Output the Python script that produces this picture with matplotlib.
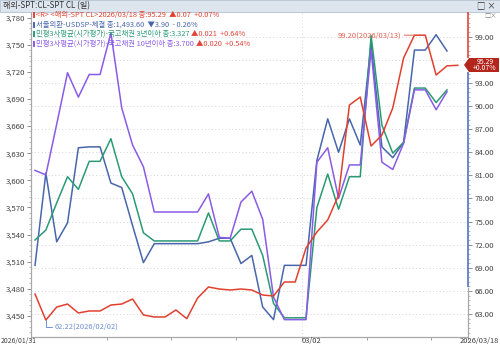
import numpy as np
import matplotlib
matplotlib.use('Agg')
import matplotlib.pyplot as plt
from matplotlib.lines import Line2D
from matplotlib.patches import Polygon, Rectangle
from matplotlib.ticker import FixedLocator, MultipleLocator, FuncFormatter

plt.rcParams['font.family'] = ['Noto Sans CJK KR', 'DejaVu Sans']

W, H = 500, 346

# ---------------- data ----------------
usd = [3506, 3608, 3532, 3553, 3636, 3637, 3637, 3597, 3592, 3550,
       3509, 3530, 3530, 3530, 3530, 3530, 3532, 3536, 3536, 3508,
       3517, 3460, 3446, 3506, 3506, 3506, 3622, 3668, 3631, 3668,
       3639, 3751, 3637, 3625, 3642, 3744, 3744, 3761, 3743]
kr3 = [3534, 3545, 3575, 3604, 3590, 3621, 3621, 3646, 3604, 3585,
       3542, 3533, 3533, 3533, 3533, 3533, 3564, 3533, 3533, 3546,
       3546, 3517, 3464, 3448, 3448, 3448, 3570, 3607, 3568, 3604,
       3604, 3760, 3661, 3630, 3642, 3702, 3702, 3686, 3700]
kr10 = [3611, 3606, 3662, 3719, 3692, 3717, 3717, 3763, 3680, 3639,
        3615, 3565, 3565, 3565, 3565, 3565, 3585, 3537, 3536, 3576,
        3588, 3557, 3471, 3446, 3446, 3446, 3620, 3636, 3580, 3617,
        3617, 3744, 3620, 3612, 3641, 3700, 3700, 3678, 3698]
wti = [65.60, 62.22, 63.91, 64.30, 63.14, 63.40, 63.40, 64.17, 64.30, 64.95,
       62.88, 62.62, 62.62, 63.53, 62.40, 65.08, 66.51, 66.25, 66.12, 66.25,
       66.12, 65.47, 65.34, 67.16, 67.16, 71.57, 73.65, 75.21, 78.45, 90.13,
       91.17, 84.81, 86.24, 89.75, 96.24, 99.20, 99.20, 94.03, 95.22, 95.29]

left_ticks = [3450, 3480, 3510, 3540, 3570, 3600, 3630, 3660, 3690, 3720, 3750, 3780]
right_ticks = [63, 66, 69, 72, 75, 78, 81, 84, 87, 90, 93, 96, 99]
x_tick_pos = [6.6, 12.55, 18.55, 24.6, 30.6, 36.55]
x_major_label = '03/02'
date_start, date_end = '2026/01/31', '2026/03/18'

legend_rows = [
    ("<R> <해외-SPT CL>2026/03/18 종:95.29  ▲0.07  +0.07%", None),
    ("서울외환-USDSP-체결 종:1,493.60  ▼3.90  - 0.26%", None),
    ("민평3사평균(시가평가)-국고채권 3년이하 종:3.327 ", "▲0.021  +0.64%"),
    ("민평3사평균(시가평가)-국고채권 10년이하 종:3.700 ", "▲0.020  +0.54%"),
]

C_RED = '#e2402f'
C_BLUE = '#4866ac'
C_GREEN = '#2b9a74'
C_PURPLE = '#8a5be6'
C_UP = '#e0453a'

# ---------------- figure ----------------
fig = plt.figure(figsize=(W / 100, H / 100), dpi=100)


def P(x, y):
    return (x / W, 1 - y / H)


L, R, T, B = 31, 468, 12, 337
rect = [L / W, 1 - B / H, (R - L) / W, (B - T) / H]

ax_r = fig.add_axes(rect)          # right scale: grid + ticks
ax_l = ax_r.twinx()                # left scale series
ax_red = ax_r.twinx()              # red series on top

xlim = (-0.37, 39.94)
ylim_r = (60.02, 102.21)
ylim_l = (3426.8, 3786.1)

for a in (ax_r, ax_l, ax_red):
    a.set_xlim(*xlim)
    for s in a.spines.values():
        s.set_visible(False)
    a.patch.set_visible(False)

ax_r.set_ylim(*ylim_r)
ax_red.set_ylim(*ylim_r)
ax_l.set_ylim(*ylim_l)

# right axis ticks (on ax_r)
ax_r.yaxis.tick_right()
ax_r.yaxis.set_major_locator(FixedLocator(right_ticks))
ax_r.yaxis.set_minor_locator(MultipleLocator(0.6))
ax_r.yaxis.set_major_formatter(FuncFormatter(lambda v, p: '' if abs(v - 96) < 0.01 else f'{v:.2f}'))
ax_r.tick_params(axis='y', which='major', length=3, width=0.7, color='#909090',
                 labelsize=5.6, labelcolor='#404040', pad=1.5)
ax_r.tick_params(axis='y', which='minor', length=1.5, width=0.5, color='#a0a0a0')
ax_r.yaxis.grid(True, linestyle=(0, (1, 2.5)), color='#d4d4d4', linewidth=0.7)

# x ticks
ax_r.xaxis.set_major_locator(FixedLocator(x_tick_pos))
ax_r.tick_params(axis='x', length=2.5, width=0.6, color='#909090', labelbottom=False)
ax_r.axvline(x_tick_pos[3], color='#d4d4d4', linestyle=(0, (1, 2.5)), linewidth=0.7, zorder=0)

# left axis ticks
ax_l.yaxis.tick_left()
ax_l.yaxis.set_major_locator(FixedLocator(left_ticks))
ax_l.yaxis.set_minor_locator(MultipleLocator(6))
ax_l.yaxis.set_major_formatter(FuncFormatter(lambda v, p: f'{v:,.0f}'))
ax_l.tick_params(axis='y', which='major', length=3, width=0.7, color='#909090',
                 labelsize=5.6, labelcolor='#404040', pad=1.5)
ax_l.tick_params(axis='y', which='minor', length=1.5, width=0.5, color='#a0a0a0')
ax_l.tick_params(axis='x', bottom=False, labelbottom=False)

ax_red.tick_params(axis='both', which='both', left=False, right=False, bottom=False,
                   labelleft=False, labelright=False, labelbottom=False)

# series
lw = 1.1
ax_l.plot(np.arange(len(usd)), usd, color=C_BLUE, lw=lw, zorder=3)
ax_l.plot(np.arange(len(kr3)), kr3, color=C_GREEN, lw=lw, zorder=4)
ax_l.plot(np.arange(len(kr10)), kr10, color=C_PURPLE, lw=lw, zorder=5)
ax_red.plot(np.arange(len(wti)), wti, color=C_RED, lw=lw, zorder=3)

# max / min annotations
imax = int(np.argmax(wti))
imin = int(np.argmin(wti))
ax_red.annotate(f'{wti[imax]:.2f}(2026/03/13)', xy=(imax, wti[imax]),
                xytext=(-13, 0), textcoords='offset pixels', ha='right', va='center',
                fontsize=5.4, color='#e4604f',
                arrowprops=dict(arrowstyle='-', color='#e4604f', lw=0.7, shrinkA=0, shrinkB=0))
ax_red.annotate(f'{wti[imin]:.2f}(2026/02/02)', xy=(imin, wti[imin]),
                xytext=(9, -7), textcoords='offset pixels', ha='left', va='center',
                fontsize=5.4, color='#6f8fd0',
                arrowprops=dict(arrowstyle='-', color='#6f8fd0', lw=0.7, shrinkA=0, shrinkB=0,
                                connectionstyle='angle,angleA=0,angleB=90,rad=0'))

# frame lines
def fline(x0, y0, x1, y1, color, lw=0.9):
    fig.add_artist(Line2D([x0 / W, x1 / W], [1 - y0 / H, 1 - y1 / H], color=color,
                          lw=lw, transform=fig.transFigure, solid_capstyle='butt'))

fline(L, T, L, 340, '#a8a8a8')
fline(L, B, R, B, '#a8a8a8')
fline(R, T, R, 58, '#e03525', 1.1)
fline(R, 72, R, 287, '#4466c0', 1.1)
fline(R, 287, R, 340, '#a8a8a8')

# title bar
fig.add_artist(Rectangle(P(0, 11.5), 1, 11.5 / H, transform=fig.transFigure,
                         facecolor='#dde5ee', edgecolor='#b5c2d0', lw=0.6))
fig.text(*P(3, 6), '해외-SPT:CL-SPT CL (일)', fontsize=5.8, color='#303030', va='center', ha='left')
fig.text(*P(496, 6), '□ ×', fontsize=6, color='#303030', va='center', ha='right')
fig.text(*P(497, 16), '□×', fontsize=4.5, color='#808080', va='center', ha='right')

# last value box
poly = Polygon([P(464, 65), P(469, 58), P(499, 58), P(499, 72), P(469, 72)], closed=True,
               transform=fig.transFigure, facecolor='#b3261c', edgecolor='none')
fig.add_artist(poly)
fig.text(*P(485, 61.5), f'{wti[-1]:.2f}', fontsize=5, color='white', ha='center', va='center')
fig.text(*P(485, 68.5), '+0.07%', fontsize=5, color='white', ha='center', va='center')

# date labels
x_major_px = L + (x_tick_pos[3] - xlim[0]) / (xlim[1] - xlim[0]) * (R - L)
fig.text(*P(x_major_px, 341), x_major_label, fontsize=5.4, color='#404040', ha='left', va='center')
fig.text(*P(0.5, 341), date_start, fontsize=4.9, color='#404040', ha='left', va='center')
fig.text(*P(499.5, 341), date_end, fontsize=5.4, color='#404040', ha='right', va='center')

# legend rows
row_y = [15, 24.5, 34, 43.5]
row_col = [C_RED, C_BLUE, C_GREEN, C_PURPLE]
fig.canvas.draw()
renderer = fig.canvas.get_renderer()
for (txt_a, txt_b), yy, col in zip(legend_rows, row_y, row_col):
    fline(34, yy - 3, 34, yy + 3, col, 1.4)
    ta = fig.text(*P(36, yy), txt_a, fontsize=5.3, color=col, ha='left', va='center')
    if txt_b:
        bb = ta.get_window_extent(renderer)
        fig.text(bb.x1 / W, 1 - yy / H, txt_b, fontsize=5.3, color=C_UP, ha='left', va='center')

fig.savefig('out.png', dpi=100)
